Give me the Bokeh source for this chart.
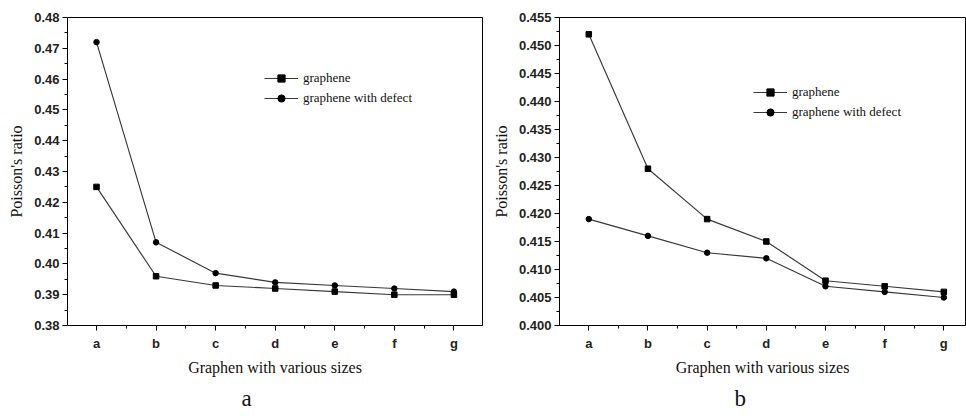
from bokeh.plotting import figure
from bokeh.layouts import row
from bokeh.models import (FixedTicker, NumeralTickFormatter, Legend, LegendItem,
                          Range1d, Title, ColumnDataSource, LinearAxis)
from bokeh.embed import file_html
from bokeh.resources import INLINE

categories = ["a", "b", "c", "d", "e", "f", "g"]

# Panel a
a_graphene = [0.425, 0.396, 0.393, 0.392, 0.391, 0.390, 0.390]
a_defect = [0.472, 0.407, 0.397, 0.394, 0.393, 0.392, 0.391]
a_yticks = [0.38, 0.39, 0.40, 0.41, 0.42, 0.43, 0.44, 0.45, 0.46, 0.47, 0.48]

# Panel b
b_graphene = [0.452, 0.428, 0.419, 0.415, 0.408, 0.407, 0.406]
b_defect = [0.419, 0.416, 0.413, 0.412, 0.407, 0.406, 0.405]
b_yticks = [0.400, 0.405, 0.410, 0.415, 0.420, 0.425, 0.430, 0.435, 0.440, 0.445, 0.450, 0.455]

series_names = ["graphene", "graphene with defect"]
panel_labels = ["a", "b"]

LINE = "#383838"
SANS = "Liberation Sans"
SERIF = "Liberation Serif"


def axis_props(label, label_standoff, title_standoff):
    return dict(
        axis_label=label,
        axis_line_color="black", major_tick_line_color="black", minor_tick_line_color="black",
        major_tick_out=5, major_tick_in=0, minor_tick_out=3, minor_tick_in=0,
        major_label_text_font=SANS, major_label_text_font_style="bold",
        major_label_text_font_size="13px", major_label_text_color="#222222",
        major_label_standoff=label_standoff,
        axis_label_text_font=SERIF, axis_label_text_font_style="normal",
        axis_label_text_font_size="16px", axis_label_text_color="#111111",
        axis_label_standoff=title_standoff,
    )


def make_panel(g_vals, d_vals, yticks, fmt, width, xr, borders, legend_loc, caption, cap_offset):
    xs = list(range(len(categories)))
    p = figure(width=width, height=416, output_backend="svg", toolbar_location=None,
               x_range=Range1d(*xr), y_range=Range1d(yticks[0], yticks[-1]),
               x_axis_type=None, y_axis_type=None)
    p.min_border_left, p.min_border_right, p.min_border_top, p.min_border_bottom = borders
    p.outline_line_color = "black"
    p.outline_line_width = 1
    p.background_fill_color = "white"
    p.border_fill_color = "white"

    step = yticks[1] - yticks[0]
    yaxis = LinearAxis(
        ticker=FixedTicker(ticks=yticks, minor_ticks=[t + step / 2 for t in yticks[:-1]]),
        formatter=NumeralTickFormatter(format=fmt),
        **axis_props("Poisson's ratio", 3, 6))
    xaxis = LinearAxis(
        ticker=FixedTicker(ticks=xs, minor_ticks=[x + 0.5 for x in xs[:-1]]),
        major_label_overrides={i: c for i, c in enumerate(categories)},
        **axis_props("Graphen with various sizes", 5, 5))
    p.add_layout(yaxis, "left")
    p.add_layout(xaxis, "below")

    src = ColumnDataSource(dict(x=xs, g=g_vals, d=d_vals))
    lg = p.line("x", "g", source=src, line_color=LINE, line_width=1.15)
    sg = p.scatter("x", "g", source=src, marker="square", size=5.5,
                   fill_color="black", line_color="black")
    ld = p.line("x", "d", source=src, line_color=LINE, line_width=1.15)
    sd = p.scatter("x", "d", source=src, marker="circle", size=5.5,
                   fill_color="black", line_color="black")

    legend = Legend(items=[LegendItem(label=series_names[0], renderers=[lg, sg]),
                           LegendItem(label=series_names[1], renderers=[ld, sd])],
                    location=legend_loc, orientation="vertical",
                    border_line_color=None, background_fill_alpha=0,
                    padding=0, margin=0, spacing=2,
                    glyph_width=34, glyph_height=18, label_height=18, label_standoff=5,
                    label_text_font=SERIF, label_text_font_size="13px",
                    label_text_color="#111111")
    p.add_layout(legend, "center")

    cap = Title(text=caption, align="left", offset=cap_offset, text_font=SERIF,
                text_font_size="23px", text_font_style="normal", text_color="#111111",
                standoff=11)
    p.add_layout(cap, "below")
    return p


p1 = make_panel(a_graphene, a_defect, a_yticks, "0.00", 488, (-0.487, 6.48),
                (67, 6, 17, 89), (197, 218), panel_labels[0], 174)
p2 = make_panel(b_graphene, b_defect, b_yticks, "0.000", 478, (-0.495, 6.366),
                (71, 1, 16, 91), (194, 204), panel_labels[1], 175)

layout = row(p1, p2)
open("out.html", "w").write(file_html(layout, INLINE))
